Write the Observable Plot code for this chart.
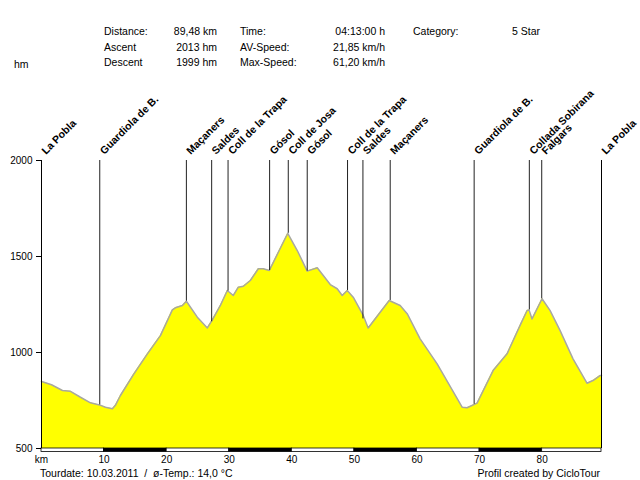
<!DOCTYPE html>
<html>
<head>
<meta charset="utf-8">
<script src="https://cdn.jsdelivr.net/npm/d3@7"></script>
<script src="https://cdn.jsdelivr.net/npm/@observablehq/plot@0.6"></script>
<style>
  html, body { margin: 0; padding: 0; background: #fff; }
  #chart svg { display: block; }
</style>
</head>
<body>
<div id="chart"></div>
<script>
// ---- Data ----
const profileKm = [0, 1.6, 3.35, 4.63, 6.23, 7.82, 9.26, 10.22, 11.33, 11.81, 12.61, 14.69, 16.92, 19.0, 20.91, 21.39, 22.51, 23.15, 24.9, 26.5, 27.3, 28.58, 29.69, 30.65, 31.45, 32.25, 33.37, 34.64, 35.44, 36.4, 37.84, 39.35, 40.87, 42.46, 44.06, 46.14, 47.25, 48.05, 48.85, 49.81, 51.41, 52.2, 54.12, 55.56, 57.31, 58.43, 60.5, 63.22, 67.21, 68.0, 69.6, 72.16, 74.39, 76.47, 77.59, 77.9, 78.38, 79.98, 81.25, 82.85, 84.93, 87.16, 88.12, 89.24, 89.48];
const profileElev = [849, 832, 802, 798, 767, 738, 727, 715, 707, 725, 776, 885, 993, 1088, 1222, 1233, 1245, 1267, 1184, 1128, 1170, 1245, 1323, 1297, 1340, 1345, 1375, 1436, 1436, 1427, 1522, 1621, 1531, 1424, 1441, 1354, 1332, 1297, 1323, 1288, 1193, 1128, 1210, 1271, 1245, 1202, 1071, 941, 715, 712, 736, 906, 993, 1141, 1219, 1222, 1175, 1280, 1219, 1115, 967, 840, 854, 880, 880];

const waypointNames = ["La Pobla", "Guardiola de B.", "Maçaners", "Saldes", "Coll de la Trapa", "Gósol", "Coll de Josa", "Gósol", "Coll de la Trapa", "Saldes", "Maçaners", "Guardiola de B.", "Collada Sobirana", "Falgars", "La Pobla"];
const waypointKm = [0, 9.31, 23.15, 27.19, 29.81, 36.45, 39.43, 42.46, 48.9, 51.36, 55.72, 69.13, 77.95, 79.93, 89.48];
const waypointElev = [849, 727, 1267, 1160, 1320, 1427, 1621, 1424, 1323, 1175, 1271, 730, 1222, 1280, 880];

const yTicks = [500, 1000, 1500, 2000];
const xTicks = [0, 10, 20, 30, 40, 50, 60, 70, 80];
const xTickLabels = ["km", "10", "20", "30", "40", "50", "60", "70", "80"];
const totalKm = 89.48;

const scaleStarts = [0, 10, 20, 30, 40, 50, 60, 70, 80];
const scaleEnds = [10, 20, 30, 40, 50, 60, 70, 80, 89.48];
const scaleColors = ["white", "black", "white", "black", "white", "black", "white", "black", "white"];

const statLabels = ["Distance:", "Ascent", "Descent", "Time:", "AV-Speed:", "Max-Speed:", "Category:"];
const statValues = ["89,48 km", "2013 hm", "1999 hm", "04:13:00 h", "21,85 km/h", "61,20 km/h", "5 Star"];
const yUnit = "hm";
const footerLeft = "Tourdate: 10.03.2011  /  ø-Temp.: 14,0 °C";
const footerRight = "Profil created by CicloTour";

// ---- Tables ----
const profile = profileKm.map((k, i) => ({km: k, elev: profileElev[i]}));
const waypoints = waypointNames.map((n, i) => ({name: n, km: waypointKm[i], elev: waypointElev[i]}));
const scaleBar = scaleStarts.map((s, i) => ({x1: s, x2: scaleEnds[i], c: scaleColors[i]}));

const FONT = "'Liberation Sans', Arial, sans-serif";

const chart = Plot.plot({
  width: 640,
  height: 480,
  marginTop: 160,
  marginBottom: 32,
  marginLeft: 41,
  marginRight: 39,
  style: {fontFamily: FONT, fontSize: "10px", color: "#000", background: "#fff", overflow: "visible"},
  x: {domain: [0, totalKm]},
  y: {domain: [500, 2000]},
  marks: [
    Plot.areaY(profile, {x: "km", y1: 500, y2: "elev", fill: "#ffff00", curve: "linear"}),
    Plot.lineY(profile, {x: "km", y: "elev", stroke: "#a8a8a0", strokeWidth: 1.5}),
    Plot.ruleX(waypoints.filter(d => d.km > 0 && d.km < totalKm), {x: "km", y1: "elev", y2: 2000, stroke: "#222", strokeWidth: 1}),
    Plot.ruleX([0, totalKm], {y1: 500, y2: 2000, stroke: "#000", strokeWidth: 1}),
    Plot.rect(scaleBar, {x1: "x1", x2: "x2", y1: 500, y2: 500, insetTop: 0, insetBottom: -3.5, fill: "c", stroke: "#000", strokeWidth: 0.8}),
    Plot.axisY({ticks: yTicks, tickSize: 5, tickPadding: 4, label: null, fontSize: 10, tickFormat: d => String(d)}),
    Plot.axisX({ticks: xTicks, tickSize: 0, tickPadding: 7, label: null, fontSize: 10, tickFormat: (d) => xTickLabels[xTicks.indexOf(d)]}),
    Plot.text(waypoints, {x: "km", y: 2000, text: "name", rotate: -45, textAnchor: "start", dx: 2, dy: -8, fontWeight: "bold", fontSize: 10.5, fill: "#000"})
  ]
});

document.getElementById("chart").appendChild(chart);

// ---- header / footer annotations ----
const svg = d3.select(chart);
const g = svg.append("g").attr("font-family", FONT).attr("font-size", 10.5).attr("fill", "#000").attr("text-anchor", "start");
const rowsY = [34.5, 50.5, 66];
const colLabelX = [104, 104, 104, 240, 240, 240, 413];
const colValueX = [217, 217, 217, 385, 385, 385, 512];
const colValueAnchor = ["end", "end", "end", "end", "end", "end", "start"];
const rowIdx = [0, 1, 2, 0, 1, 2, 0];
statLabels.forEach((t, i) => {
  g.append("text").attr("x", colLabelX[i]).attr("y", rowsY[rowIdx[i]]).attr("text-anchor", "start").text(t);
  g.append("text").attr("x", colValueX[i]).attr("y", rowsY[rowIdx[i]]).attr("text-anchor", colValueAnchor[i]).text(statValues[i]);
});
g.append("text").attr("x", 14).attr("y", 68).attr("text-anchor", "start").text(yUnit);
g.append("text").attr("x", 40).attr("y", 477).attr("text-anchor", "start").text(footerLeft);
g.append("text").attr("x", 600).attr("y", 477).attr("text-anchor", "end").text(footerRight);
</script>
</body>
</html>
